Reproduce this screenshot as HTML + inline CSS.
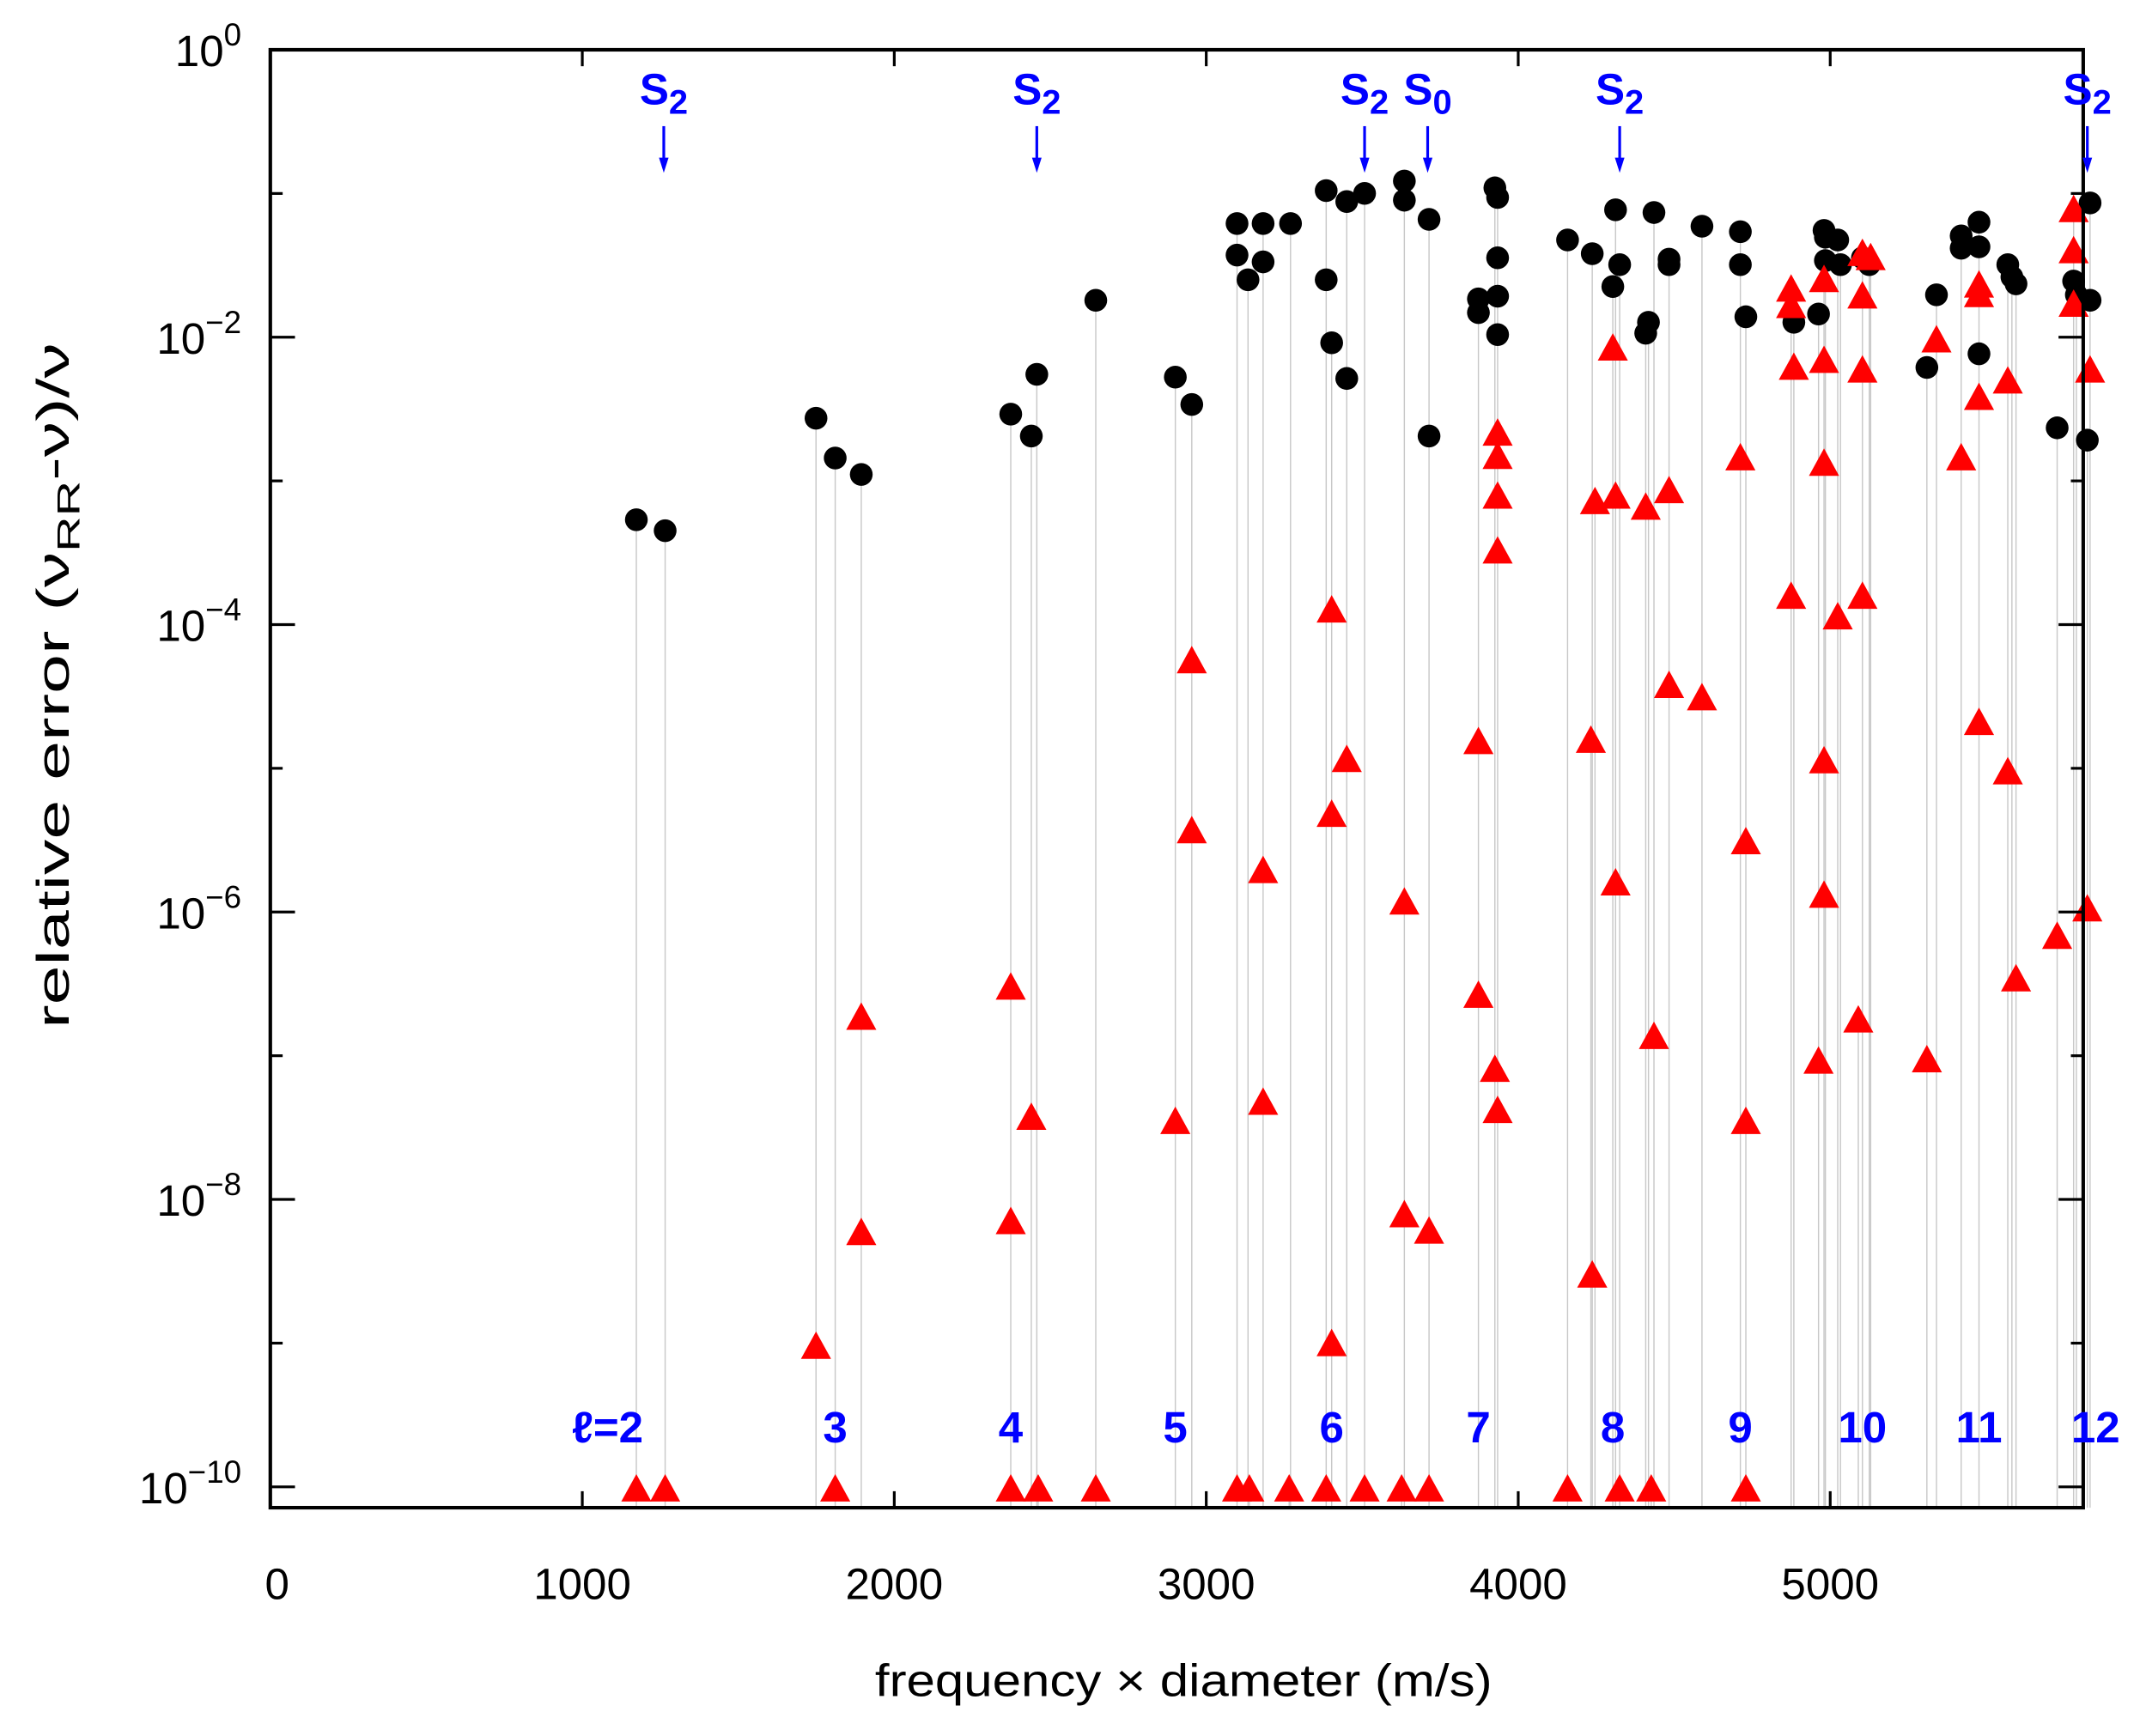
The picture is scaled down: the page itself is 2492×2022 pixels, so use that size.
<!DOCTYPE html>
<html><head><meta charset="utf-8"><style>
html,body{margin:0;padding:0;background:#fff;}
svg{display:block;}
text{font-family:"Liberation Sans",sans-serif;}
</style></head><body>
<svg id="s" width="2492" height="2022" viewBox="0 0 1560.4 1266" preserveAspectRatio="none" xmlns="http://www.w3.org/2000/svg">
<g id="lines"></g>
<g id="marks"></g>
<g id="axes"></g>
</svg>
<script>
(function(){
const NS="http://www.w3.org/2000/svg";
function el(p,t,a,txt){const e=document.createElementNS(NS,t);for(const k in a)e.setAttribute(k,a[k]);if(txt!==undefined)e.textContent=txt;p.appendChild(e);return e;}
const L=197.1,T=36.3,R=1519,B=1099.5,dec=104.8;
const circ=[[464,379],[485,387],[595,305],[609,334],[628,346],[737,302],[752,318],[756,273],[799,219],[857,275],[869,295],
[902,163],[902,186],[910,204],[921,163],[921,191],[941,163],[967,139],[967,204],[971,250],[982,147],[982,276],[995,141],
[1024,132],[1024,146],[1042,160],[1042,318],[1078,218],[1078,228],[1090,137],[1092,144],[1092,188],[1092,216],[1092,244],
[1143,175],[1161,185],[1176,209],[1178,153],[1181,193],[1200,243],[1202,235],[1206,155],[1217,189],[1217,193],[1241,165],
[1269,169],[1269,193],[1273,231],[1308,235],[1326,229],[1330,168],[1331,173],[1331,190],[1340,175],[1342,193],[1358,188],[1363,193],
[1405,268],[1412,215],[1430,172],[1430,181],[1443,180],[1443,162],[1443,258],[1464,193],[1467,202],[1470,207],
[1500,312],[1512,205],[1514,215],[1524,148],[1522,321],[1524,219]];
const tri=[[595,982],[628,742],[628,899],[737,720],[737,891],[752,815],[857,818],[869,482],[869,606],[921,635],[921,804],
[971,445],[971,594],[971,980],[982,554],[1024,658],[1024,886],[1042,898],[1078,541],[1078,726],[1090,780],[1092,316],[1092,333],
[1092,362],[1092,402],[1092,810],[1160,540],[1161,930],[1163,366],[1176,254],[1178,362],[1178,644],[1200,370],[1206,756],
[1217,358],[1217,500],[1241,509],[1269,334],[1273,614],[1273,818],[1306,211],[1306,223],[1308,268],[1306,435],[1326,774],
[1330,204],[1330,263],[1330,338],[1330,555],[1330,653],[1340,450],[1355,744],[1358,216],[1358,270],[1358,435],[1358,185],[1364,188],
[1405,773],[1412,248],[1430,334],[1443,208],[1443,215],[1443,290],[1443,527],[1464,278],[1464,563],[1470,714],[1500,683],
[1512,153],[1512,183],[1512,222],[1524,270],[1522,663]];
[464,485,609,737,757,799,902,911,940,967,995,1022,1042,1143,1181,1204,1273].forEach(x=>tri.push([x,1086]));
const gl=document.getElementById('lines'),gm=document.getElementById('marks'),ga=document.getElementById('axes');
const tops={};
circ.concat(tri).forEach(([x,y])=>{const k=Math.round(x);if(!(k in tops)||y<tops[k])tops[k]=y;});
for(const k in tops){el(gl,'line',{x1:k,x2:k,y1:B,y2:tops[k],stroke:'#c8c8c8','stroke-width':0.9});}
circ.forEach(([x,y])=>el(gm,'circle',{cx:x,cy:y,r:8.3,fill:'#000'}));
tri.forEach(([x,y])=>el(gm,'polygon',{points:`${x-11},${y+9} ${x+11},${y+9} ${x},${y-11}`,fill:'#ff0000'}));
el(ga,'rect',{x:L,y:T,width:R-L,height:B-T,fill:'none',stroke:'#000','stroke-width':2.6});
const xs=(R-L)/5811*1000;
for(let i=0;i<=5;i++){const x=L+i*xs;
 if(i>0){el(ga,'line',{x1:x,x2:x,y1:B,y2:B-12,stroke:'#000','stroke-width':2});el(ga,'line',{x1:x,x2:x,y1:T,y2:T+12,stroke:'#000','stroke-width':2});}
 el(ga,'text',{x:x+(i==0?5:0),y:1166,'font-size':32,'text-anchor':'middle',fill:'#000'},String(i*1000));}
for(let d=0;d<=10;d++){const y=T+d*dec;const len=d%2==0?18:9;
 el(ga,'line',{x1:L,x2:L+len,y1:y,y2:y,stroke:'#000','stroke-width':2});
 el(ga,'line',{x1:R,x2:R-len,y1:y,y2:y,stroke:'#000','stroke-width':2});
 if(d%2==0){const t=el(ga,'text',{x:176,y:y+12,'font-size':32,'text-anchor':'end',fill:'#000'},'10');
  el(t,'tspan',{dy:-15,'font-size':23},d==0?'0':'\u2212'+d);}}
el(ga,'text',{x:638,y:1237,'font-size':33,fill:'#000',textLength:450,lengthAdjust:'spacingAndGlyphs'},'frequency \u00d7 diameter (m/s)');
const yl=el(ga,'text',{x:0,y:0,'font-size':33,fill:'#000',transform:'translate(50,750) rotate(-90)',textLength:500,lengthAdjust:'spacingAndGlyphs'},'relative error (\u03bd');
el(yl,'tspan',{dy:8,'font-size':23},'RR');
el(yl,'tspan',{dy:-8},'-\u03bd)/\u03bd');
[[484,'2'],[756,'2'],[995,'2'],[1041,'0'],[1181,'2'],[1522,'2']].forEach(([x,sub])=>{
 const t=el(ga,'text',{x:x,y:76,'font-size':32,'font-weight':'bold','text-anchor':'middle',fill:'#0000ff'},'S');
 el(t,'tspan',{dy:7,'font-size':25},sub);
 el(ga,'line',{x1:x,x2:x,y1:92,y2:118,stroke:'#0000ff','stroke-width':2});
 el(ga,'polygon',{points:`${x-3.5},115 ${x+3.5},115 ${x},126`,fill:'#0000ff'});});
[[443,'\u2113=2'],[609,'3'],[737,'4'],[857,'5'],[971,'6'],[1078,'7'],[1176,'8'],[1269,'9'],[1358,'10'],[1443,'11'],[1528,'12']].forEach(([x,t])=>
 el(ga,'text',{x:x,y:1052,'font-size':32,'font-weight':'bold','text-anchor':'middle',fill:'#0000ff'},t));
})();
</script>
</body></html>
